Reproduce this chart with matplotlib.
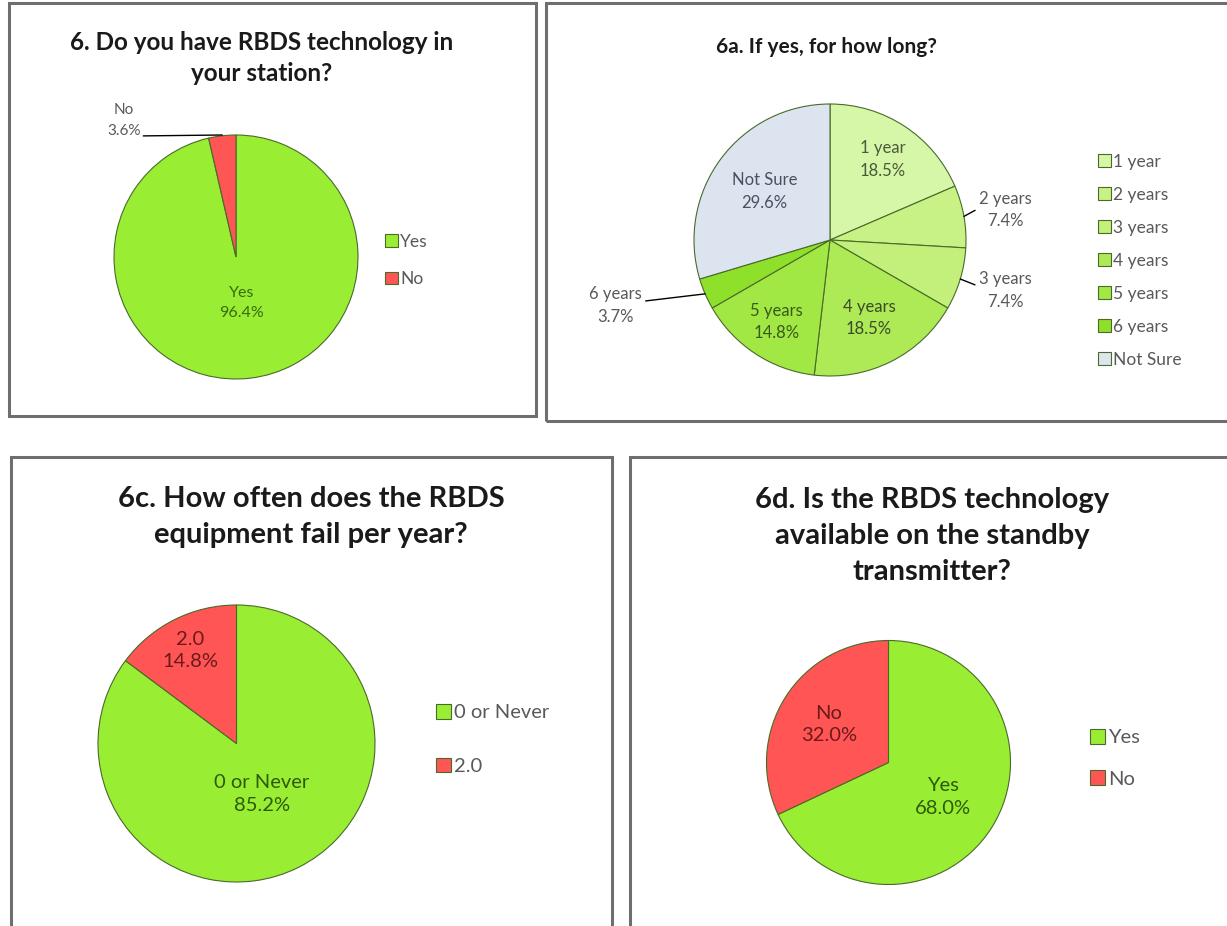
import matplotlib.pyplot as plt
from matplotlib.patches import Rectangle
import numpy as np

plt.rcParams['font.family'] = ['Lato', 'DejaVu Sans']

W, H = 1227, 926

# 6. RBDS technology in station
q6_labels = ['Yes', 'No']
q6_values = [96.4, 3.6]

# 6a. how long
q6a_labels = ['1 year', '2 years', '3 years', '4 years', '5 years', '6 years', 'Not Sure']
q6a_values = [18.5, 7.4, 7.4, 18.5, 14.8, 3.7, 29.6]

# 6c. failures per year
q6c_labels = ['0 or Never', '2.0']
q6c_values = [85.2, 14.8]

# 6d. standby transmitter
q6d_labels = ['Yes', 'No']
q6d_values = [68.0, 32.0]

GREEN = '#99ee33'
RED = '#ff5555'
EDGE = '#4a6a2a'
GREY_TXT = '#595959'

fig = plt.figure(figsize=(W / 100, H / 100), dpi=100)
fig.patch.set_facecolor('white')


def box(x0, y0, x1, y1):
    # panel frame, pixel coords from the top-left
    r = Rectangle((x0 / W, 1 - y1 / H), (x1 - x0) / W, (y1 - y0) / H,
                  transform=fig.transFigure, fill=False, edgecolor='#6e6e6e', lw=2.2)
    fig.patches.append(r)


def pie_axes(cx, cy, r):
    return fig.add_axes([(cx - r) / W, 1 - (cy + r) / H, 2 * r / W, 2 * r / H])


def draw_pie(ax, values, colors):
    wedges, _ = ax.pie(values, colors=colors, startangle=90, counterclock=False, radius=1,
                       wedgeprops=dict(edgecolor=EDGE, lw=0.8))
    # pie() widens the limits, pull them back so the disc fills the axes
    ax.set_xlim(-1, 1)
    ax.set_ylim(-1, 1)
    ax.set_aspect('equal')
    ax.axis('off')
    return wedges


def mid_angle(w):
    return np.deg2rad((w.theta1 + w.theta2) / 2)


def inside_labels(ax, wedges, labels, values, dists, colors, size, ls):
    for w, lab, v, d, c in zip(wedges, labels, values, dists, colors):
        if d is None:
            continue
        a = mid_angle(w)
        ax.text(d * np.cos(a), d * np.sin(a), f'{lab}\n{v:.1f}%', ha='center', va='center',
                fontsize=size, color=c, linespacing=ls)


def legend(wedges, labels, x, y, size, spacing):
    fig.legend(wedges, labels, loc='upper left', bbox_to_anchor=(x / W, 1 - y / H),
               frameon=False, fontsize=size, labelcolor=GREY_TXT, handlelength=0.75,
               handleheight=0.75, handletextpad=0.15, labelspacing=spacing, borderpad=0)


box(9, 3, 536, 416)
box(546, 3, 1240, 421)
box(11, 457, 612, 940)
box(630, 457, 1240, 940)

# ---- panel 1
fig.text(262 / W, 1 - 58 / H, '6. Do you have RBDS technology in\nyour station?', ha='center',
         va='center', fontsize=17.5, fontweight='bold', color='#1a1a1a', linespacing=1.42)
ax1 = pie_axes(236, 257, 122)
w1 = draw_pie(ax1, q6_values, [GREEN, RED])
inside_labels(ax1, w1, q6_labels, q6_values, [0.38, None], ['#3a6a10', GREY_TXT], 11.5, 1.6)
a = mid_angle(w1[1])
ax1.annotate(f'{q6_labels[1]}\n{q6_values[1]:.1f}%', xy=(np.cos(a), 1.0), xytext=(-0.92, 1.12),
             ha='center', va='center', fontsize=11, color=GREY_TXT, linespacing=1.6,
             annotation_clip=False,
             arrowprops=dict(arrowstyle='-', color='black', lw=1, shrinkA=0, shrinkB=0,
                             relpos=(1, 0.05)))
legend(w1, q6_labels, 376, 225, 12.5, 1.23)

# ---- panel 2
fig.text(826 / W, 1 - 47 / H, '6a. If yes, for how long?', ha='center', va='center',
         fontsize=15, fontweight='bold', color='#1a1a1a')
ax2 = pie_axes(830, 240, 136)
q6a_colors = ['#d7f7a8', '#c8f285', '#c2f07a', '#aeea55', '#a2e844', '#8ee02a', '#dce4ef']
w2 = draw_pie(ax2, q6a_values, q6a_colors)
inside_labels(ax2, w2, q6a_labels, q6a_values,
              [0.71, None, None, 0.64, 0.72, None, 0.6],
              ['#4a5a3a', None, None, '#3a4a2a', '#3a5a1a', None, '#4a5060'], 12, 1.5)
# outside labels with short leaders
outside = {1: (1.29, 0.22, (0.0, 0.55)), 2: (1.29, -0.37, (0.0, 0.6)), 5: (-1.58, -0.48, (1.0, 0.6))}
for i, (tx, ty, rp) in outside.items():
    a = mid_angle(w2[i])
    ax2.annotate(f'{q6a_labels[i]}\n{q6a_values[i]:.1f}%', xy=(np.cos(a), np.sin(a)),
                 xytext=(tx, ty), ha='center', va='center', fontsize=12, color=GREY_TXT,
                 linespacing=1.5, annotation_clip=False,
                 arrowprops=dict(arrowstyle='-', color='black', lw=1, shrinkA=1, shrinkB=0,
                                 relpos=rp))
legend(w2, q6a_labels, 1089, 145, 12.5, 0.98)

# ---- panel 3
fig.text(311 / W, 1 - 517 / H, '6c. How often does the RBDS\nequipment fail per year?', ha='center',
         va='center', fontsize=21, fontweight='bold', color='#1a1a1a', linespacing=1.5)
ax3 = pie_axes(236.5, 743.5, 138.5)
w3 = draw_pie(ax3, q6c_values, [GREEN, RED])
inside_labels(ax3, w3, q6c_labels, q6c_values, [0.41, 0.75], ['#2e5a0a', '#6a1a1a'], 14.5, 1.4)
legend(w3, q6c_labels, 426, 694, 14.5, 1.79)

# ---- panel 4
fig.text(932 / W, 1 - 536 / H, '6d. Is the RBDS technology\navailable on the standby\ntransmitter?',
         ha='center', va='center', fontsize=21, fontweight='bold', color='#1a1a1a', linespacing=1.46)
ax4 = pie_axes(888.5, 762.5, 122)
w4 = draw_pie(ax4, q6d_values, [GREEN, RED])
inside_labels(ax4, w4, q6d_labels, q6d_values, [0.53, 0.58], ['#2e5a0a', '#6a1a1a'], 14.5, 1.38)
legend(w4, q6d_labels, 1080, 719, 14.5, 1.19)

fig.savefig('out.png', dpi=100, facecolor='white')
